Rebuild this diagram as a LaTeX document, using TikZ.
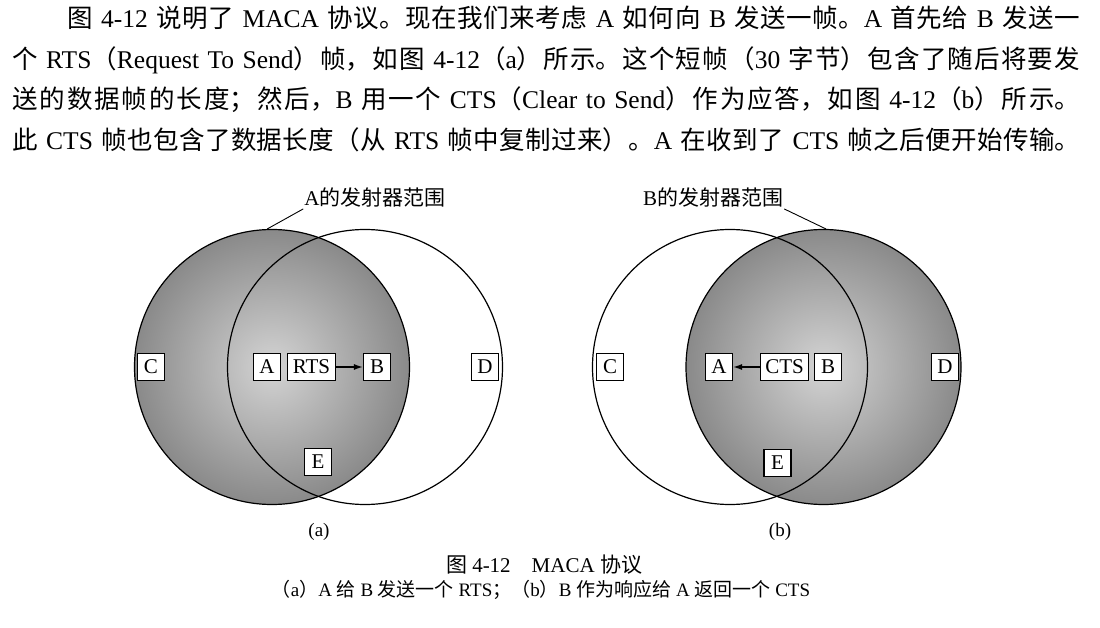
\documentclass[tikz,border=0pt]{standalone}
\usepackage{fontspec}
\setmainfont{Liberation Serif}
\newfontfamily\hanfont{Noto Sans CJK SC}
\usetikzlibrary{arrows.meta}

% switch to the Han font and back at every script change
\XeTeXinterchartokenstate=1
\newXeTeXintercharclass\hanclass
\newcount\hanchar
\hanchar="3000
\loop\ifnum\hanchar<"A000
  \XeTeXcharclass\hanchar=\hanclass
  \advance\hanchar by 1
\repeat
\hanchar="FF00
\loop\ifnum\hanchar<"FFF0
  \XeTeXcharclass\hanchar=\hanclass
  \advance\hanchar by 1
\repeat
\XeTeXinterchartoks 0 \hanclass = {\hanfont}
\XeTeXinterchartoks 4095 \hanclass = {\hanfont}
\XeTeXinterchartoks \hanclass 0 = {\rmfamily}
\XeTeXinterchartoks \hanclass 4095 = {\rmfamily}
\XeTeXlinebreaklocale "zh"
\XeTeXlinebreakskip=0pt plus 12pt

% one justified line, filled out to the full width
\newcommand\fullline[1]{\leftskip=0pt\rightskip=0pt\parfillskip=0pt\relax #1\par}

\begin{document}
\begin{tikzpicture}[x=1pt, y=-1pt,
	txt/.style={font=\fontsize{25.5}{30}\selectfont, anchor=west, inner sep=0pt},
	txrange/.style={circle, draw, line width=1.2pt, minimum size=275pt, inner sep=0pt},
	txzone/.style={txrange, inner color=black!17, outer color=black!46},
	stn/.style={draw, fill=white, line width=1.1pt, minimum width=27pt, minimum height=27pt, inner xsep=5pt, inner ysep=2pt, font=\fontsize{21}{21}\selectfont},
	rlab/.style={font=\fontsize{21}{21}\selectfont, inner sep=1pt},
	figcap/.style={font=\fontsize{19}{19}\selectfont, inner sep=0pt},
	>={Latex[length=9pt, width=6pt]}]
	\useasboundingbox (0,0) rectangle (1100,628);
	% text above the figure
	\node[txt, text width=1013pt] (par1) at (67,18) {\fullline{图 4-12 说明了 MACA 协议。现在我们来考虑 A 如何向 B 发送一帧。A 首先给 B 发送一}};
	\node[txt, text width=1068pt] (par2) at (12,60) {\fullline{个 RTS（Request To Send）帧，如图 4-12（a）所示。这个短帧（30 字节）包含了随后将要发}};
	\node[txt, text width=1068pt] (par3) at (12,100) {\fullline{送的数据帧的长度；然后，B 用一个 CTS（Clear to Send）作为应答，如图 4-12（b）所示。}};
	\node[txt, text width=1068pt] (par4) at (12,140) {\fullline{此 CTS 帧也包含了数据长度（从 RTS 帧中复制过来）。A 在收到了 CTS 帧之后便开始传输。}};

	% (a) A sends RTS to B
	\node[txzone] (aRangeA) at (272,367) {};
	\node[txrange] (aRangeB) at (365,367) {};
	\node[stn] (aC) at (151,367) {C};
	\node[stn] (aA) at (267,367) {A};
	\node[stn] (aRTS) at (311.5,367) {RTS};
	\node[stn] (aB) at (377,367) {B};
	\node[stn] (aD) at (485,367) {D};
	\node[stn] (aE) at (318,462) {E};
	\draw[->, line width=1.4pt] (aRTS) -- (aB);
	\node[rlab] (aLab) at (375,198) {A的发射器范围};
	\draw[line width=0.9pt] (aLab.south west) -- (aRangeA.92);
	\node[figcap] (aCap) at (319,532) {(a)};

	% (b) B answers with CTS
	\node[txzone] (bRangeB) at (823.5,367) {};
	\node[txrange] (bRangeA) at (730,367) {};
	\node[stn] (bC) at (610,367) {C};
	\node[stn] (bA) at (719,367) {A};
	\node[stn] (bCTS) at (784.5,367) {CTS};
	\node[stn] (bB) at (828,367) {B};
	\node[stn] (bD) at (945,367) {D};
	\node[stn] (bE) at (777.5,463) {E};
	\draw[->, line width=1.4pt] (bCTS) -- (bA);
	\node[rlab] (bLab) at (713,198) {B的发射器范围};
	\draw[line width=0.9pt] (bLab.south east) -- (bRangeB.89);
	\node[figcap] (bCap) at (780,532) {(b)};

	% caption
	\node[figcap, font=\fontsize{21}{21}\selectfont] (title) at (544,565) {图 4-12\quad MACA 协议};
	\node[figcap, font=\fontsize{19}{19}\selectfont] (sub) at (541,590) {（a）A 给 B 发送一个 RTS；（b）B 作为响应给 A 返回一个 CTS};
\end{tikzpicture}
\end{document}
